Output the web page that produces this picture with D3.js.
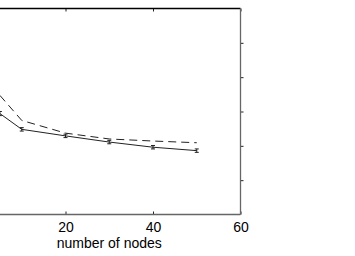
<!DOCTYPE html>
<html>
<head>
<meta charset="utf-8">
<script src="https://cdn.jsdelivr.net/npm/d3@7"></script>
<style>
    body { margin: 0; background: #fff; }
    .axis text { font-family: "Liberation Sans", Arial, sans-serif; font-size: 14px; fill: #000; }
    .label { font-family: "Liberation Sans", Arial, sans-serif; font-size: 14px; fill: #000; }
</style>
</head>
<body>
<script>

    // number of nodes
    var nodes = [5, 10, 20, 30, 40, 50];
    // solid series with error bars
    var solidValues = [2.94, 2.48, 2.29, 2.11, 1.96, 1.86];
    var solidErr = [0.06, 0.05, 0.05, 0.05, 0.05, 0.05];
    // dashed series
    var dashedValues = [3.47, 2.74, 2.37, 2.20, 2.14, 2.09];

    // the 0 tick sits outside the visible crop
    var xTicks = [20, 40, 60];
    var yTicks = [1, 2, 3, 4, 5];

    var width = 355;
    var height = 256;

    // plot box: left edge is cut off in the picture
    var box = {left: -22, right: 240.5, top: 8.5, bottom: 214.5};

    var xScale = d3.scaleLinear()
                    .domain([0, 60])
                    .range([box.left, box.right]);

    var yScale = d3.scaleLinear()
                    .domain([0, 6])
                    .range([box.bottom, box.top]);

    var svg = d3.select("body")
                .append("svg")
                .attr("width", width)
                .attr("height", height);

    // top and right ticks (inward)
    var topAxis = d3.axisTop(xScale).tickValues(xTicks).tickSize(-3).tickFormat("");
    svg.append("g")
        .attr("class", "axis")
        .attr("transform", "translate(0," + box.top + ")")
        .call(topAxis)
        .call(function(g) { g.select(".domain").remove(); })
        .selectAll("line").attr("stroke", "#222");

    var rightAxis = d3.axisLeft(yScale).tickValues(yTicks).tickSize(-3).tickFormat("");
    svg.append("g")
        .attr("class", "axis")
        .attr("transform", "translate(" + box.right + ",0)")
        .call(rightAxis)
        .call(function(g) { g.select(".domain").remove(); })
        .selectAll("line").attr("stroke", "#222");

    // bottom axis
    var xAxis = d3.axisBottom(xScale)
                    .tickValues(xTicks)
                    .tickSize(-3)
                    .tickPadding(8);

    svg.append("g")
        .attr("class", "axis")
        .attr("transform", "translate(0," + box.bottom + ")")
        .call(xAxis)
        .call(function(g) { g.select(".domain").remove(); })
        .selectAll("line").attr("stroke", "#222");

    // frame
    svg.append("line")
        .attr("x1", box.left).attr("x2", box.right)
        .attr("y1", box.top).attr("y2", box.top)
        .attr("stroke", "#000").attr("stroke-width", 1.3);
    svg.append("line")
        .attr("x1", box.right).attr("x2", box.right)
        .attr("y1", box.top).attr("y2", box.bottom)
        .attr("stroke", "#666").attr("stroke-width", 1.3);
    svg.append("line")
        .attr("x1", box.left).attr("x2", box.right)
        .attr("y1", box.bottom).attr("y2", box.bottom)
        .attr("stroke", "#666").attr("stroke-width", 1.3);

    var seriesLine = d3.line()
                    .x(function(d, i) { return xScale(nodes[i]); })
                    .y(function(d) { return yScale(d); });

    svg.append("path")
        .datum(dashedValues)
        .attr("d", seriesLine)
        .attr("fill", "none")
        .attr("stroke", "#222")
        .attr("stroke-width", 1)
        .attr("stroke-dasharray", "8,5");

    svg.append("path")
        .datum(solidValues)
        .attr("d", seriesLine)
        .attr("fill", "none")
        .attr("stroke", "#222")
        .attr("stroke-width", 1);

    // error bars
    var bars = svg.selectAll(".err")
                    .data(solidValues)
                    .enter()
                    .append("g")
                    .attr("class", "err")
                    .attr("stroke", "#222")
                    .attr("stroke-width", 1);

    bars.append("line")
        .attr("x1", function(d, i) { return xScale(nodes[i]); })
        .attr("x2", function(d, i) { return xScale(nodes[i]); })
        .attr("y1", function(d, i) { return yScale(d - solidErr[i]); })
        .attr("y2", function(d, i) { return yScale(d + solidErr[i]); });

    bars.append("line")
        .attr("x1", function(d, i) { return xScale(nodes[i]) - 2; })
        .attr("x2", function(d, i) { return xScale(nodes[i]) + 2; })
        .attr("y1", function(d, i) { return yScale(d - solidErr[i]); })
        .attr("y2", function(d, i) { return yScale(d - solidErr[i]); });

    bars.append("line")
        .attr("x1", function(d, i) { return xScale(nodes[i]) - 2; })
        .attr("x2", function(d, i) { return xScale(nodes[i]) + 2; })
        .attr("y1", function(d, i) { return yScale(d + solidErr[i]); })
        .attr("y2", function(d, i) { return yScale(d + solidErr[i]); });

    // x label
    svg.append("text")
        .attr("class", "label")
        .attr("x", (xScale(0) + xScale(60)) / 2)
        .attr("y", 248)
        .style("text-anchor", "middle")
        .text("number of nodes");

</script>
</body>
</html>
